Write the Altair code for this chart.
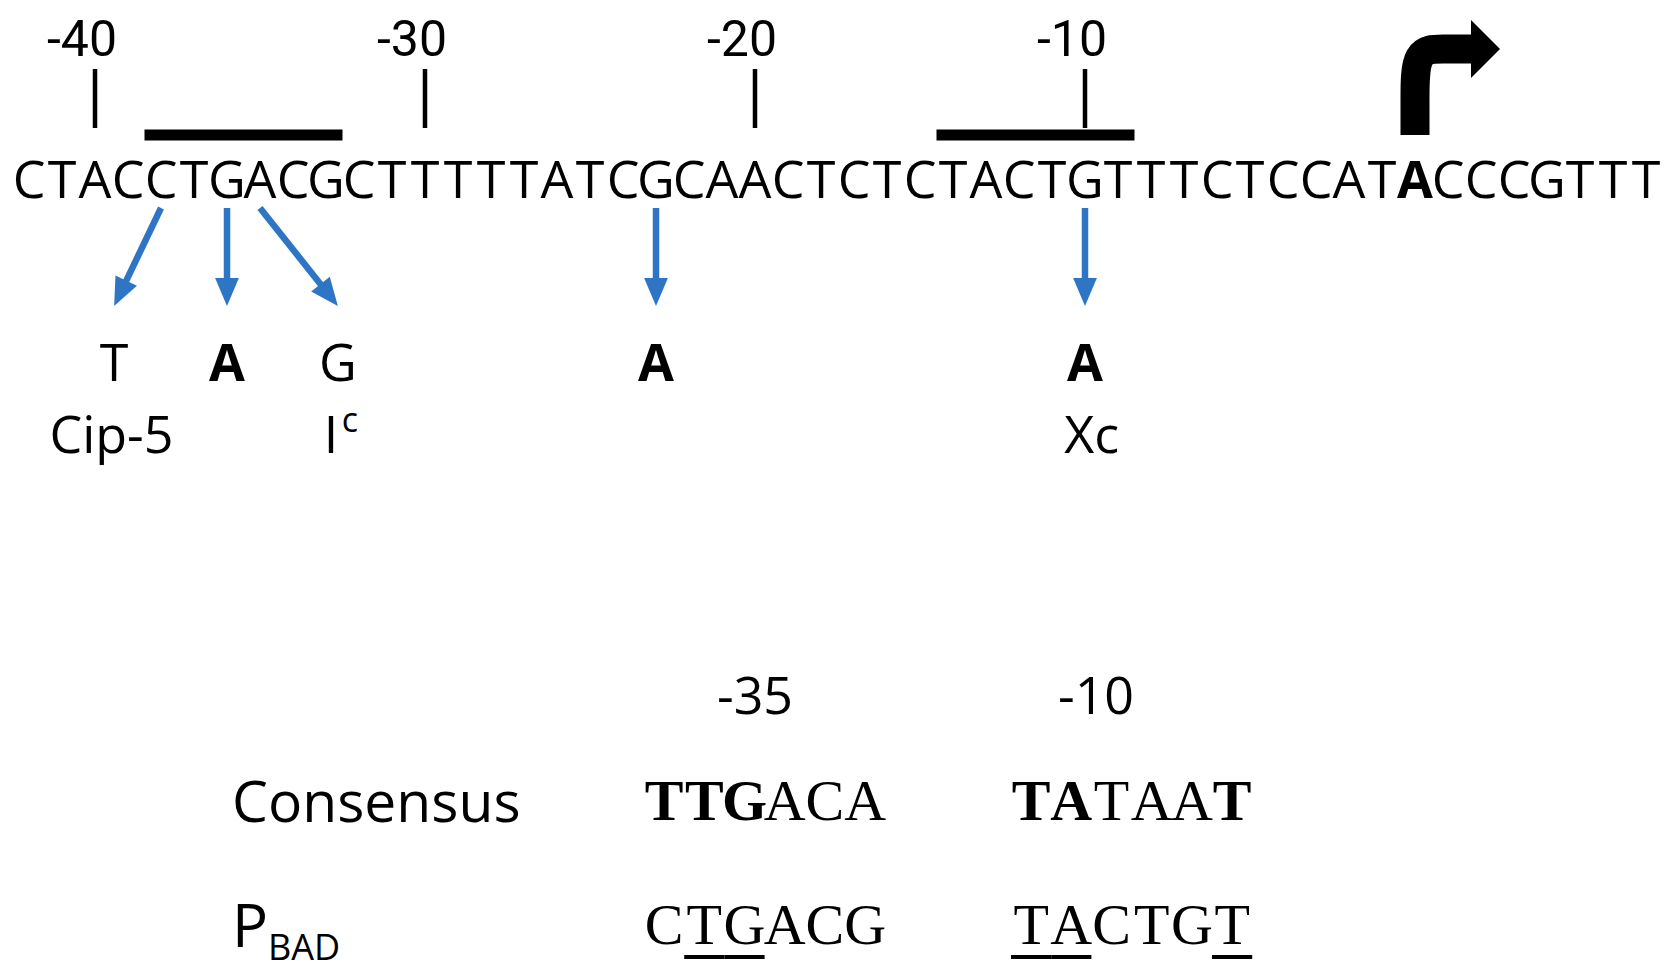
import altair as alt
import numpy as np
import pandas as pd

# ---------------- data ----------------
SEQUENCE = "CTACCTGACGCTTTTTATCGCAACTCTCTACTGTTTCTCCATACCCGTTT"
TSS_INDEX = 42                      # index of the +1 nucleotide (bold A)
TICK_POSITIONS = [-40, -30, -20, -10]
BOX_NAMES = ["-35", "-10"]
BOX_START = [4, 28]                 # first nucleotide index of each hexamer
BOX_LEN = 6
MUT_FROM = [4, 6, 7, 19, 32]
MUT_TO = ["T", "A", "G", "A", "A"]
MUT_BOLD = [False, True, False, True, True]
MUT_LABEL_AT = [2.58, 6.0, 9.36, 19.0, 32.0]
ALLELE_NAMES = ["Cip-5", "I", "Xc"]
ALLELE_SUP = ["", "c", ""]
ALLELE_AT = [2.5, 9.15, 32.2]
CONSENSUS = ["TTGACA", "TATAAT"]
CONSENSUS_BOLD = ["111000", "110001"]
ROW_LABELS = ["Consensus", "P"]
ROW_SUB = ["", "BAD"]

# ---------------- layout ----------------
W, H = 1655, 964
X_DOMAIN = [8, 8 + W]
Y_DOMAIN = [8, 8 + H]
SEQ_X0, SEQ_STEP = 29, 33
BLUE = "#2E75C6"
BLACK = "#000000"
SANS = "Open Sans"
SEQ_FONT = "Open Sans"
NUM_FONT = "Roboto"
MONO = "Liberation Serif"

Y_POSLAB, Y_TICK0, Y_TICK1, Y_BAR = 56, 69, 128, 135
Y_SEQ, Y_ARR0, Y_ARR1, Y_MUT, Y_ALLELE, Y_SUP = 198, 208, 306, 381, 453, 432
Y_BOXLAB, Y_CONS, Y_PBAD, Y_P, Y_BAD, Y_ULINE = 714, 820, 944, 947, 960, 957
LABEL_X = 232
BOX_X0 = [644, 1011]
BOX_LABEL_X = [755, 1096]
MONO_STEP = 40.2
ARM_Y, ARM_LEN, HEAD_LEN = 49, 56, 29


def nt_x(i):
    return SEQ_X0 + SEQ_STEP * i


def pos_index(p):
    return TSS_INDEX + p if p < 0 else TSS_INDEX + p - 1


texts = []  # x, y, text, size, color, style


def add_text(x, y, t, size, style, color=BLACK):
    texts.append(dict(x=x, y=y, text=t, size=size, color=color, style=style))


# sequence
for i, ch in enumerate(SEQUENCE):
    add_text(nt_x(i), Y_SEQ, ch, 52, "seq_b" if i == TSS_INDEX else "seq")
# position labels
for p in TICK_POSITIONS:
    add_text(nt_x(pos_index(p)) - 13, Y_POSLAB, str(p), 50, "num")
# mutations
for to, b, at in zip(MUT_TO, MUT_BOLD, MUT_LABEL_AT):
    add_text(nt_x(at), Y_MUT, to, 52, "sans_b" if b else "sans")
for name, sup, at in zip(ALLELE_NAMES, ALLELE_SUP, ALLELE_AT):
    add_text(nt_x(at), Y_ALLELE, name, 52, "sans")
    if sup:
        add_text(nt_x(at) + 19, Y_SUP, sup, 34, "sans")
# bottom table
for name, lx in zip(BOX_NAMES, BOX_LABEL_X):
    add_text(lx, Y_BOXLAB, name, 52, "sans")
add_text(LABEL_X, Y_CONS + 2, ROW_LABELS[0], 57, "sans_l")
add_text(LABEL_X, Y_P, ROW_LABELS[1], 60, "sans_l")
add_text(LABEL_X + 36, Y_BAD, ROW_SUB[1], 36, "sans_l")

rules = []  # x, x2, y, y2, w, color
for b, (start, x0) in enumerate(zip(BOX_START, BOX_X0)):
    pbad = SEQUENCE[start:start + BOX_LEN]
    cons = CONSENSUS[b]
    for k in range(BOX_LEN):
        cx = x0 + MONO_STEP * (k + 0.5)
        bold = CONSENSUS_BOLD[b][k] == "1"
        add_text(cx, Y_CONS, cons[k], 58, "mono_b" if bold else "mono")
        add_text(cx, Y_PBAD, pbad[k], 58, "mono")
        if bold and pbad[k] == cons[k]:
            rules.append(dict(x=x0 + MONO_STEP * k, x2=x0 + MONO_STEP * (k + 1),
                              y=Y_ULINE, y2=Y_ULINE, w=4, color=BLACK))
    # box bar over the sequence
    rules.append(dict(x=nt_x(start - 0.5), x2=nt_x(start + BOX_LEN - 0.5),
                      y=Y_BAR, y2=Y_BAR, w=11, color=BLACK))

for p in TICK_POSITIONS:
    x = nt_x(pos_index(p))
    rules.append(dict(x=x, x2=x, y=Y_TICK0, y2=Y_TICK1, w=4.5, color=BLACK))

heads = []  # blue arrow heads
for src, at in zip(MUT_FROM, MUT_LABEL_AT):
    x0, y0 = nt_x(src), Y_ARR0
    x1, y1 = nt_x(at), Y_ARR1
    d = np.array([x1 - x0, y1 - y0], dtype=float)
    d /= np.linalg.norm(d)
    ex, ey = x1 - d[0] * 24, y1 - d[1] * 24
    rules.append(dict(x=x0, x2=ex, y=y0, y2=ey, w=6.5, color=BLUE))
    ang = (np.degrees(np.arctan2(-d[0], d[1])) + 360) % 360
    heads.append(dict(x=x1, y=y1, angle=float(ang), size=784, color=BLUE))

tss_x = nt_x(TSS_INDEX)
tss_line = pd.DataFrame(dict(
    x=[tss_x, tss_x, tss_x, tss_x + ARM_LEN / 2, tss_x + ARM_LEN],
    y=[Y_BAR, 100, ARM_Y, ARM_Y, ARM_Y],
    o=[0, 1, 2, 3, 4]))
tss_head = pd.DataFrame([dict(x=tss_x + ARM_LEN + HEAD_LEN, y=ARM_Y, angle=270.0,
                              size=float(HEAD_LEN ** 2), color=BLACK)])

tdf = pd.DataFrame(texts)
rdf = pd.DataFrame(rules)
hdf = pd.DataFrame(heads)

xs = alt.Scale(domain=X_DOMAIN, nice=False, zero=False)
ys = alt.Scale(domain=Y_DOMAIN, nice=False, zero=False, reverse=True)
X = lambda f="x": alt.X(f"{f}:Q", scale=xs, axis=None)
Y = lambda f="y": alt.Y(f"{f}:Q", scale=ys, axis=None)


def text_layer(style, font, weight, align):
    d = tdf[tdf["style"] == style]
    return alt.Chart(d).mark_text(font=font, fontWeight=weight, align=align,
                                  baseline="alphabetic").encode(
        x=X(), y=Y(), text="text:N",
        size=alt.Size("size:Q", scale=None),
        color=alt.Color("color:N", scale=None))


layers = [
    alt.Chart(rdf).mark_rule(strokeCap="butt").encode(
        x=X(), x2="x2:Q", y=Y(), y2="y2:Q",
        strokeWidth=alt.StrokeWidth("w:Q", scale=None),
        color=alt.Color("color:N", scale=None)),
    alt.Chart(hdf).mark_point(shape="M-0.85,-2L0.85,-2L0,0Z", filled=True,
                              opacity=1, strokeWidth=0).encode(
        x=X(), y=Y(), angle=alt.Angle("angle:Q", scale=None),
        size=alt.Size("size:Q", scale=None),
        color=alt.Color("color:N", scale=None)),
    alt.Chart(tss_line).mark_line(interpolate="basis", strokeWidth=29,
                                  strokeCap="butt", color=BLACK).encode(
        x=X(), y=Y(), order="o:Q"),
    alt.Chart(tss_head).mark_point(shape="M-2,-2L2,-2L0,0Z", filled=True,
                                   opacity=1, strokeWidth=0).encode(
        x=X(), y=Y(), angle=alt.Angle("angle:Q", scale=None),
        size=alt.Size("size:Q", scale=None),
        color=alt.Color("color:N", scale=None)),
    text_layer("seq", SEQ_FONT, "normal", "center"),
    text_layer("seq_b", SEQ_FONT, "bold", "center"),
    text_layer("num", NUM_FONT, "normal", "center"),
    text_layer("sans", SANS, "normal", "center"),
    text_layer("sans_b", SANS, "bold", "center"),
    text_layer("sans_l", SANS, "normal", "left"),
    text_layer("mono", MONO, "normal", "center"),
    text_layer("mono_b", MONO, "bold", "center"),
]

chart = alt.layer(*layers).properties(
    width=W, height=H, padding=0, autosize="none", background="white"
).configure_view(stroke=None)

chart.save("out.html", embed_options={"renderer": "svg", "actions": False})
